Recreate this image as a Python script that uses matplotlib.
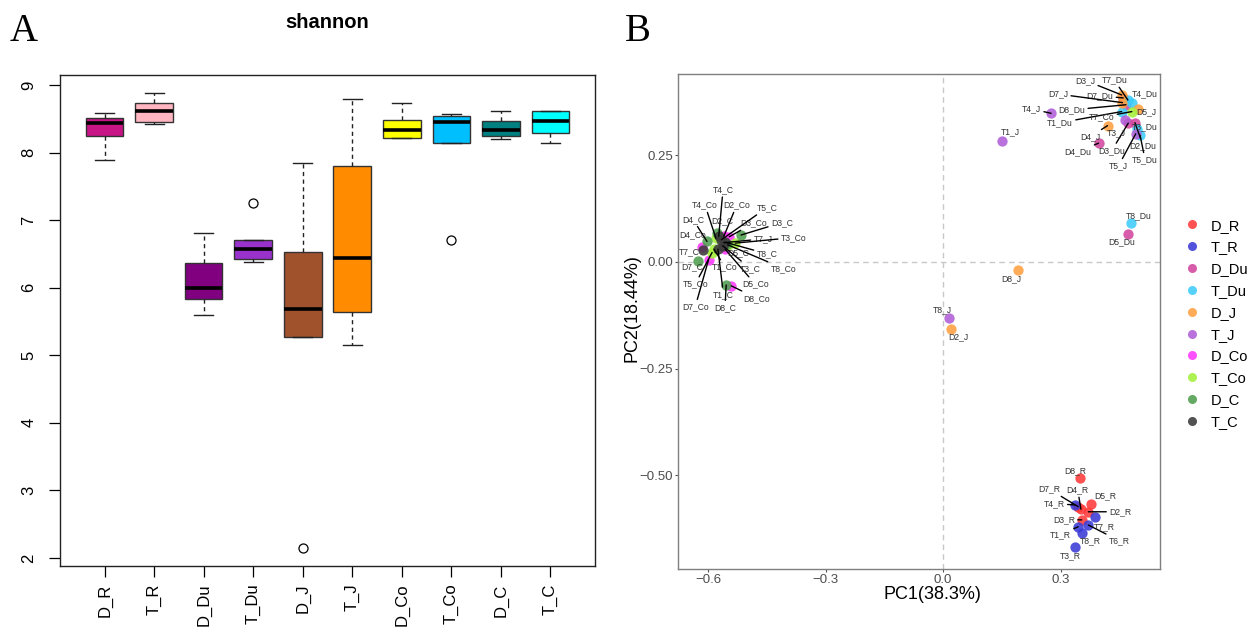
import matplotlib
matplotlib.use('Agg')
import matplotlib.pyplot as plt
from matplotlib.lines import Line2D
import numpy as np

plt.rcParams['font.family'] = ['Liberation Sans', 'DejaVu Sans']

# ---------------- panel A: shannon index per group ----------------
groups = ['D_R', 'T_R', 'D_Du', 'T_Du', 'D_J', 'T_J', 'D_Co', 'T_Co', 'D_C', 'T_C']
box_colors = ['#C71585', '#FFB6C1', '#800080', '#9932CC', '#A0522D',
              '#FF8C00', '#FFFF00', '#00BFFF', '#008080', '#00FFFF']
whislo = [7.89, 8.43, 5.59, 6.38, 5.27, 5.15, 8.21, 8.15, 8.20, 8.14]
q1 = [8.24, 8.46, 5.84, 6.43, 5.27, 5.64, 8.22, 8.15, 8.24, 8.29]
med = [8.44, 8.61, 5.99, 6.58, 5.69, 6.44, 8.33, 8.46, 8.34, 8.47]
q3 = [8.52, 8.74, 6.37, 6.71, 6.53, 7.81, 8.48, 8.55, 8.47, 8.61]
whishi = [8.59, 8.88, 6.81, 6.71, 7.84, 8.80, 8.73, 8.57, 8.61, 8.61]
fliers = [[], [], [], [7.25], [2.15], [], [], [6.71], [], []]

# ---------------- panel B: PCA of samples ----------------
pca_colors = ['#FF3B3B', '#3A3AD6', '#D2479E', '#3DCBFA', '#FFA040',
              '#B05FD6', '#FF38FF', '#A3F03A', '#4E9F4E', '#3A3A3A']
sample_names = [
    'D2_R', 'D3_R', 'D4_R', 'D5_R', 'D7_R', 'D8_R',
    'T1_R', 'T3_R', 'T4_R', 'T6_R', 'T7_R', 'T8_R',
    'D2_Du', 'D3_Du', 'D4_Du', 'D5_Du', 'D7_Du', 'D8_Du',
    'T1_Du', 'T3_Du', 'T4_Du', 'T5_Du', 'T7_Du', 'T8_Du',
    'D2_J', 'D3_J', 'D4_J', 'D5_J', 'D7_J', 'D8_J',
    'T1_J', 'T3_J', 'T4_J', 'T5_J', 'T7_J', 'T8_J',
    'D2_Co', 'D3_Co', 'D4_Co', 'D5_Co', 'D7_Co', 'D8_Co',
    'T1_Co', 'T3_Co', 'T4_Co', 'T5_Co', 'T7_Co', 'T8_Co',
    'D2_C', 'D3_C', 'D4_C', 'D5_C', 'D7_C', 'D8_C',
    'T1_C', 'T3_C', 'T4_C', 'T5_C', 'T7_C', 'T8_C',
]
pc1 = [
    0.371, 0.354, 0.352, 0.378, 0.345, 0.350,
    0.345, 0.337, 0.337, 0.371, 0.388, 0.354,
    0.490, 0.473, 0.397, 0.472, 0.460, 0.467,
    0.456, 0.494, 0.482, 0.503, 0.472, 0.479,
    0.019, 0.456, 0.420, 0.499, 0.458, 0.192,
    0.151, 0.465, 0.276, 0.492, -0.560, 0.015,
    -0.560, -0.546, -0.616, -0.557, -0.599, -0.541,
    -0.585, -0.531, -0.580, -0.590, 0.482, -0.550,
    -0.578, -0.516, -0.603, -0.552, -0.625, -0.554,
    -0.575, -0.563, -0.573, -0.566, -0.612, -0.556,
]
pc2 = [
    -0.585, -0.604, -0.579, -0.567, -0.573, -0.507,
    -0.620, -0.668, -0.569, -0.616, -0.598, -0.635,
    0.326, 0.325, 0.278, 0.066, 0.384, 0.368,
    0.352, 0.312, 0.372, 0.297, 0.379, 0.090,
    -0.156, 0.391, 0.319, 0.358, 0.373, -0.019,
    0.283, 0.333, 0.348, 0.300, 0.045, -0.132,
    0.060, 0.059, 0.036, 0.030, 0.005, -0.056,
    0.030, 0.044, 0.055, 0.022, 0.352, 0.040,
    0.067, 0.063, 0.048, 0.042, 0.002, -0.054,
    0.030, 0.038, 0.060, 0.052, 0.028, 0.046,
]
# where the repelled text labels sit (layout only)
label_xy = [
    (0.452, -0.585), (0.309, -0.603), (0.344, -0.534), (0.414, -0.548), (0.271, -0.532), (0.337, -0.489),
    (0.300, -0.639), (0.324, -0.689), (0.284, -0.566), (0.450, -0.653), (0.411, -0.620), (0.375, -0.653),
    (0.511, 0.272), (0.431, 0.261), (0.345, 0.258), (0.456, 0.048), (0.401, 0.389), (0.329, 0.356),
    (0.299, 0.326), (0.516, 0.317), (0.516, 0.393), (0.516, 0.239), (0.437, 0.426), (0.499, 0.108),
    (0.039, -0.175), (0.363, 0.425), (0.375, 0.293), (0.520, 0.352), (0.294, 0.393), (0.175, -0.040),
    (0.173, 0.305), (0.443, 0.303), (0.226, 0.358), (0.448, 0.225), (-0.460, 0.054), (-0.003, -0.111),
    (-0.527, 0.133), (-0.484, 0.091), (-0.639, 0.063), (-0.480, -0.052), (-0.633, -0.105), (-0.476, -0.085),
    (-0.557, -0.012), (-0.382, 0.057), (-0.608, 0.133), (-0.633, -0.052), (0.405, 0.339), (-0.408, -0.015),
    (-0.565, 0.096), (-0.412, 0.092), (-0.639, 0.100), (-0.523, 0.022), (-0.642, -0.012), (-0.557, -0.107),
    (-0.561, -0.076), (-0.493, -0.015), (-0.562, 0.169), (-0.450, 0.127), (-0.648, 0.024), (-0.450, 0.019),
]

W, H = 1260, 635
fig = plt.figure(figsize=(W / 100, H / 100), dpi=100)

# ---- A ----
axA = fig.add_axes([60 / W, (H - 566) / H, 535 / W, 491 / H])
stats = [dict(label=g, med=m, q1=a, q3=b, whislo=lo, whishi=hi, fliers=f)
         for g, m, a, b, lo, hi, f in zip(groups, med, q1, q3, whislo, whishi, fliers)]
bp = axA.bxp(stats, positions=np.arange(1, 11), widths=0.76, capwidths=0.38,
             patch_artist=True, showfliers=True,
             boxprops=dict(edgecolor='#333333', linewidth=1.0),
             medianprops=dict(color='black', linewidth=2.6, solid_capstyle='butt'),
             whiskerprops=dict(color='#222222', linewidth=1.0, linestyle=(0, (3, 2.5))),
             capprops=dict(color='#222222', linewidth=1.0),
             flierprops=dict(marker='o', markerfacecolor='none', markeredgecolor='black',
                             markersize=6.5, markeredgewidth=0.9))
for patch, c in zip(bp['boxes'], box_colors):
    patch.set_facecolor(c)
axA.set_xlim(0.1, 10.9)
axA.set_ylim(1.88, 9.15)
axA.set_yticks(range(2, 10))
axA.set_xticks(np.arange(1, 11))
axA.set_xticklabels(groups, rotation=90)
axA.tick_params(axis='x', length=8, width=0.9, pad=4.5, labelsize=12)
axA.tick_params(axis='y', length=8, width=0.9, pad=9, labelsize=12, labelrotation=90)
for lab in axA.get_yticklabels():
    lab.set_va('center')
for sp in axA.spines.values():
    sp.set_linewidth(1.0)
    sp.set_color('#222222')
fig.text(327.5 / W, 1 - 22 / H, 'shannon', ha='center', va='center',
         fontsize=14.5, fontweight='bold')

# ---- B ----
axB = fig.add_axes([678 / W, (H - 569) / H, 482 / W, 495 / H])
axB.set_xlim(-0.677, 0.554)
axB.set_ylim(-0.719, 0.440)
axB.axvline(0, color='#C8C8C8', lw=1.0, ls=(0, (4, 3)), zorder=1)
axB.axhline(0, color='#C8C8C8', lw=1.0, ls=(0, (4, 3)), zorder=1)

sample_groups = [n[0] + n[n.index('_'):] for n in sample_names]
pc1_arr = np.array(pc1)
pc2_arr = np.array(pc2)
for g, c in zip(groups, pca_colors):
    idx = [i for i, s in enumerate(sample_groups) if s == g]
    axB.scatter(pc1_arr[idx], pc2_arr[idx], s=55, color=c, alpha=0.88,
                linewidths=0, zorder=3)

for name, x, y, (lx, ly) in zip(sample_names, pc1, pc2, label_xy):
    p = axB.transData.transform((x, y))
    q = axB.transData.transform((lx, ly))
    far = np.hypot(*(p - q)) > 17
    axB.annotate(name, xy=(x, y), xytext=(lx, ly), textcoords='data',
                 ha='center', va='center', fontsize=6.2, color='#333333', zorder=5,
                 arrowprops=dict(arrowstyle='-', color='black', lw=1.0,
                                 shrinkA=0, shrinkB=0) if far else None)

axB.set_xticks([-0.6, -0.3, 0.0, 0.3])
axB.set_xticklabels(['\u22120.6', '\u22120.3', '0.0', '0.3'])
axB.set_yticks([-0.5, -0.25, 0.0, 0.25])
axB.set_yticklabels(['\u22120.50', '\u22120.25', '0.00', '0.25'])
axB.tick_params(length=2.2, width=0.8, color='#555555', labelcolor='#4D4D4D',
                labelsize=9.5, pad=1.2)
for sp in axB.spines.values():
    sp.set_linewidth(1.0)
    sp.set_color('#7F7F7F')
fig.text(932 / W, 1 - 594.5 / H, 'PC1(38.3%)', ha='center', va='center', fontsize=13)
fig.text(632.5 / W, 1 - 307.6 / H, 'PC2(18.44%)', ha='center', va='center',
         rotation=90, fontsize=13)

handles = [Line2D([], [], marker='o', linestyle='none', markersize=6.5,
                  markerfacecolor=c, markeredgecolor='none', alpha=0.88)
           for c in pca_colors]
fig.legend(handles, groups, loc='upper left', bbox_to_anchor=(1184.4 / W, 1 - 218.6 / H),
           frameon=False, fontsize=10.5, handlelength=1.0, handletextpad=0.8,
           labelspacing=0.535, borderpad=0, borderaxespad=0)

fig.text(9.5 / W, 1 - 41 / H, 'A', fontsize=28, family='Liberation Serif', va='baseline')
fig.text(625 / W, 1 - 41 / H, 'B', fontsize=28, family='Liberation Serif', va='baseline')

fig.savefig('out.png', dpi=100)
